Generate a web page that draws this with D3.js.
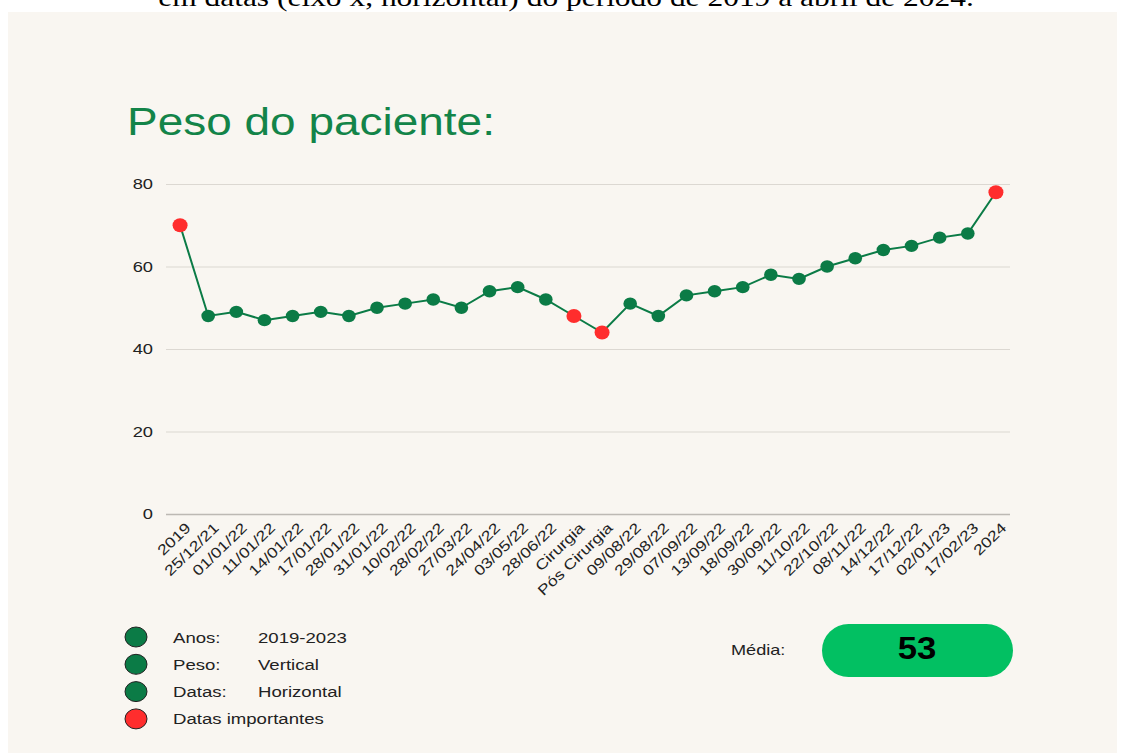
<!DOCTYPE html>
<html><head><meta charset="utf-8">
<script src="https://cdn.jsdelivr.net/npm/d3@7"></script>
<style>
html,body{margin:0;padding:0;background:#fff;}
svg{display:block;}
</style></head>
<body>
<script>
const categories = ["2019","25/12/21","01/01/22","11/01/22","14/01/22","17/01/22","28/01/22","31/01/22","10/02/22","28/02/22","27/03/22","24/04/22","03/05/22","28/06/22","Cirurgia","Pós Cirurgia","09/08/22","29/08/22","07/09/22","13/09/22","18/09/22","30/09/22","11/10/22","22/10/22","08/11/22","14/12/22","17/12/22","02/01/23","17/02/23","2024"];
const weights = [70,48,49,47,48,49,48,50,51,52,50,54,55,52,48,44,51,48,53,54,55,58,57,60,62,64,65,67,68,78];
const importantDates = ["2019","Cirurgia","Pós Cirurgia","2024"];
const yTicks = [0,20,40,60,80];
const legendItems = [
  {label:"Anos:", value:"2019-2023", important:false},
  {label:"Peso:", value:"Vertical", important:false},
  {label:"Datas:", value:"Horizontal", important:false},
  {label:"Datas importantes", value:"", important:true}
];
const mediaLabel = "Média:";
const mediaValue = "53";

const W = 1121, H = 753;
const green = "#0b7b46", red = "#ff2d2d", font = "'Liberation Sans', Arial, sans-serif";
const SX = 1.21;
const svg = d3.select("body").append("svg").attr("width", W).attr("height", H);

function stext(g, x, y, size, txt, opts={}) {
  const t = g.append("text").attr("transform",`translate(${x},${y}) scale(${opts.sx||SX},1)`)
    .attr("font-family",font).attr("font-size",size).attr("fill",opts.fill||"#222")
    .attr("text-anchor",opts.anchor||"start").text(txt);
  if (opts.bold) t.attr("font-weight","bold");
  return t;
}

svg.append("rect").attr("x",0).attr("y",0).attr("width",W).attr("height",H).attr("fill","#fff");
svg.append("text").attr("transform","translate(566,6) scale(1.21,1)").attr("text-anchor","middle")
  .attr("font-family","'Liberation Serif', 'Times New Roman', serif").attr("font-size",26).attr("fill","#000")
  .text("em datas (eixo x, horizontal) do período de 2019 a abril de 2024.");
svg.append("rect").attr("x",8).attr("y",12).attr("width",1109).attr("height",H-12).attr("fill","#f9f6f1");

stext(svg, 127, 135, 38, "Peso do paciente:", {fill:"#138449"});

const x = d3.scalePoint().domain(categories).range([166,1010]).padding(0.5);
const y = d3.scaleLinear().domain([0,80]).range([514,184]);

const gy = svg.append("g").attr("transform","translate(166,0)")
  .call(d3.axisLeft(y).tickValues(yTicks).tickSize(-844).tickPadding(13));
gy.select(".domain").remove();
gy.selectAll(".tick line").attr("stroke","#dcd8d2").attr("stroke-width",1.2);
gy.selectAll(".tick text").attr("font-family",font).attr("font-size",15).attr("fill","#222")
  .attr("x",0).attr("transform","translate(-13,0) scale(1.22,1)");
gy.selectAll(".tick").filter(d=>d===0).select("line").attr("stroke","#bdb9b4").attr("stroke-width",1.5);

const gx = svg.append("g").attr("transform","translate(0,514)")
  .call(d3.axisBottom(x).tickSize(0).tickPadding(0));
gx.select(".domain").remove();
gx.selectAll(".tick text").attr("font-family",font).attr("font-size",14.5).attr("fill","#222")
  .attr("text-anchor","end").attr("dy",0).attr("y",0)
  .attr("transform","translate(11,15) rotate(-44) scale(1.22,1)");

const line = d3.line().x((d,i)=>x(categories[i])).y(d=>y(d));
svg.append("path").datum(weights).attr("d",line).attr("fill","none").attr("stroke",green).attr("stroke-width",2);

svg.selectAll("ellipse.pt").data(weights).join("ellipse").attr("class","pt")
  .attr("cx",(d,i)=>x(categories[i])).attr("cy",d=>y(d))
  .attr("rx",(d,i)=>importantDates.includes(categories[i])?7.5:6.8)
  .attr("ry",(d,i)=>importantDates.includes(categories[i])?7:6.2)
  .attr("fill",(d,i)=>importantDates.includes(categories[i])?red:green);

const lg = svg.append("g");
legendItems.forEach((it,i)=>{
  const cy = 637 + i*27.3;
  lg.append("ellipse").attr("cx",136).attr("cy",cy).attr("rx",11).attr("ry",10).attr("fill",it.important?red:green)
    .attr("stroke","#222").attr("stroke-width",1);
  stext(lg, 173, cy+5.5, 15, it.label, {sx:1.24});
  if(it.value) stext(lg, 258, cy+5.5, 15, it.value, {sx:1.24});
});

stext(svg, 731, 655, 14.5, mediaLabel, {sx:1.25});
svg.append("rect").attr("x",822).attr("y",624).attr("width",191).attr("height",53).attr("rx",26.5).attr("fill","#02c062");
stext(svg, 917, 659, 31, mediaValue, {anchor:"middle", bold:true, fill:"#000", sx:1.12});
</script>
</body></html>
